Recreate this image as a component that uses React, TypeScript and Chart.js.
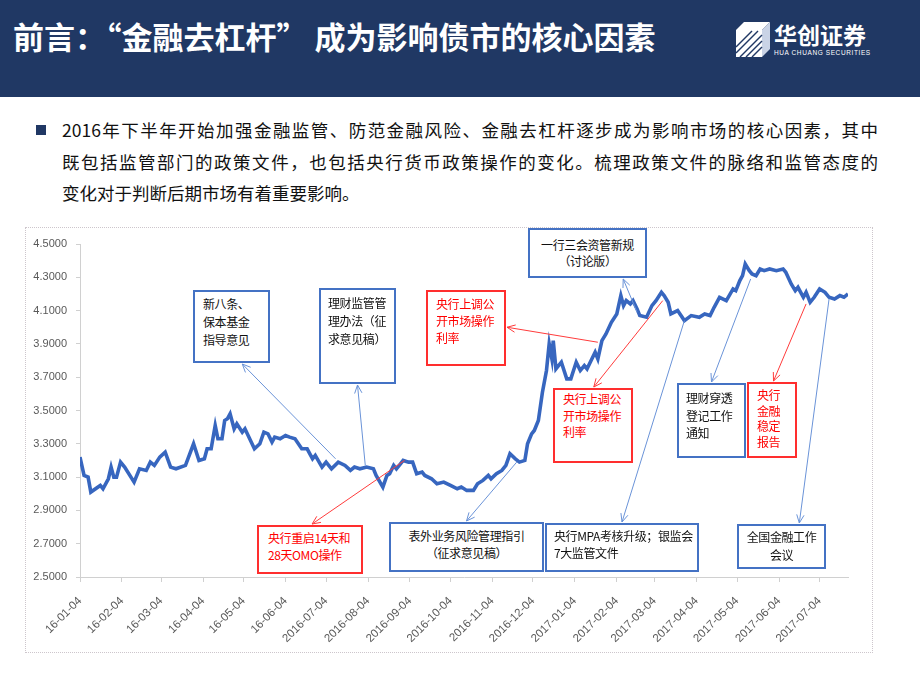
import React, { useEffect, useRef } from "react";
import { Chart, registerables } from "chart.js";

Chart.register(...registerables);

// ---------- DATA ----------
const dates: string[] = [
  "2016-01-04","2016-01-07","2016-01-10","2016-01-12","2016-01-19","2016-01-21","2016-01-25","2016-01-27","2016-01-29","2016-01-31",
  "2016-02-03","2016-02-06","2016-02-13","2016-02-17","2016-02-22","2016-02-25","2016-02-28","2016-03-03","2016-03-07","2016-03-11",
  "2016-03-15","2016-03-22","2016-03-28","2016-04-01","2016-04-05","2016-04-07","2016-04-10","2016-04-13","2016-04-15","2016-04-18",
  "2016-04-20","2016-04-22","2016-04-24","2016-04-27","2016-04-29","2016-05-03","2016-05-05","2016-05-12","2016-05-16","2016-05-19",
  "2016-05-22","2016-05-25","2016-05-27","2016-05-31","2016-06-04","2016-06-07","2016-06-11","2016-06-16","2016-06-20","2016-06-22",
  "2016-06-24","2016-06-26","2016-07-01","2016-07-04","2016-07-08","2016-07-13","2016-07-18","2016-07-22","2016-07-25","2016-07-29",
  "2016-08-03","2016-08-08","2016-08-10","2016-08-15","2016-08-18","2016-08-20","2016-08-23","2016-08-25","2016-08-28","2016-08-30",
  "2016-09-03","2016-09-06","2016-09-09","2016-09-13","2016-09-15","2016-09-20","2016-09-24","2016-09-29","2016-10-04","2016-10-09",
  "2016-10-12","2016-10-16","2016-10-21","2016-10-24","2016-10-28","2016-11-01","2016-11-03","2016-11-07","2016-11-11","2016-11-14",
  "2016-11-17","2016-11-21","2016-11-24","2016-11-28","2016-11-30","2016-12-03","2016-12-05","2016-12-08","2016-12-11","2016-12-14",
  "2016-12-16","2016-12-18","2016-12-19","2016-12-21","2016-12-25","2016-12-29","2017-01-01","2017-01-03","2017-01-05","2017-01-08",
  "2017-01-11","2017-01-13","2017-01-16","2017-01-19","2017-01-21","2017-01-24","2017-01-27","2017-01-31","2017-02-04","2017-02-07",
  "2017-02-09","2017-02-11","2017-02-14","2017-02-16","2017-02-19","2017-02-21","2017-02-26","2017-03-02","2017-03-05","2017-03-09",
  "2017-03-11","2017-03-14","2017-03-16","2017-03-21","2017-03-26","2017-03-31","2017-04-06","2017-04-10","2017-04-14","2017-04-17",
  "2017-04-21","2017-04-26","2017-05-01","2017-05-03","2017-05-06","2017-05-08","2017-05-10","2017-05-13","2017-05-15","2017-05-18",
  "2017-05-21","2017-05-24","2017-05-28","2017-06-02","2017-06-07","2017-06-09","2017-06-13","2017-06-16","2017-06-18","2017-06-22",
  "2017-06-24","2017-06-27","2017-06-30","2017-07-04","2017-07-08","2017-07-11","2017-07-15","2017-07-19","2017-07-22","2017-07-25",
];

const yields: number[] = [
  3.22,3.11,3.10,3.01,3.05,3.03,3.09,3.16,3.10,3.10,
  3.19,3.16,3.07,3.15,3.14,3.19,3.17,3.22,3.25,3.16,
  3.15,3.17,3.30,3.20,3.21,3.27,3.27,3.41,3.33,3.33,
  3.44,3.45,3.48,3.39,3.42,3.37,3.39,3.27,3.30,3.37,
  3.36,3.31,3.34,3.33,3.35,3.34,3.33,3.27,3.27,3.24,
  3.21,3.23,3.16,3.19,3.15,3.19,3.17,3.14,3.16,3.15,
  3.16,3.15,3.11,3.04,3.11,3.12,3.17,3.15,3.18,3.20,
  3.19,3.19,3.12,3.13,3.11,3.09,3.06,3.07,3.05,3.03,
  3.04,3.02,3.02,3.06,3.08,3.11,3.09,3.12,3.14,3.17,
  3.24,3.21,3.19,3.20,3.30,3.36,3.38,3.44,3.61,3.74,
  3.90,3.81,3.92,3.75,3.79,3.69,3.69,3.74,3.79,3.74,
  3.77,3.75,3.80,3.85,3.81,3.92,3.96,4.03,4.08,4.19,
  4.13,4.16,4.14,4.16,4.11,4.07,4.06,4.13,4.16,4.21,
  4.19,4.15,4.08,4.10,4.04,4.07,4.06,4.08,4.07,4.12,
  4.18,4.16,4.23,4.22,4.28,4.31,4.38,4.34,4.32,4.31,
  4.35,4.34,4.35,4.34,4.35,4.33,4.26,4.22,4.24,4.18,
  4.21,4.15,4.18,4.23,4.21,4.18,4.17,4.19,4.18,4.20,
];

const startDate = "2016-01-04";
const endDate = "2017-07-25";

const tickDates: string[] = [
  "2016-01-04","2016-02-04","2016-03-04","2016-04-04","2016-05-04","2016-06-04","2016-07-04",
  "2016-08-04","2016-09-04","2016-10-04","2016-11-04","2016-12-04","2017-01-04","2017-02-04",
  "2017-03-04","2017-04-04","2017-05-04","2017-06-04","2017-07-04",
];
const tickLabels: string[] = [
  "16-01-04","16-02-04","16-03-04","16-04-04","16-05-04","16-06-04","2016-07-04",
  "2016-08-04","2016-09-04","2016-10-04","2016-11-04","2016-12-04","2017-01-04","2017-02-04",
  "2017-03-04","2017-04-04","2017-05-04","2017-06-04","2017-07-04",
];
const yTickValues: number[] = [2.5, 2.7, 2.9, 3.1, 3.3, 3.5, 3.7, 3.9, 4.1, 4.3, 4.5];

// Event annotations: text, anchor date and anchor level on the series, kind
const eventTexts: string[][] = [
  ["新八条、", "保本基金", "指导意见"],
  ["理财监管管", "理办法（征", "求意见稿）"],
  ["央行上调公", "开市场操作", "利率"],
  ["一行三会资管新规", "（讨论版）"],
  ["央行上调公", "开市场操作", "利率"],
  ["理财穿透", "登记工作", "通知"],
  ["央行", "金融", "稳定", "报告"],
  ["表外业务风险管理指引", "（征求意见稿）"],
  ["央行MPA考核升级；银监会", "7大监管文件"],
  ["全国金融工作", "会议"],
  ["央行重启14天和", "28天OMO操作"],
];
const eventDates: string[] = [
  "2016-07-11","2016-08-02","2017-01-21","2017-02-19","2017-03-10","2017-05-14",
  "2017-06-24","2016-11-22","2017-03-26","2017-07-11","2016-08-31",
];
const eventLevels: number[] = [3.21, 3.17, 3.91, 4.09, 4.16, 4.29, 4.14, 3.19, 4.04, 4.17, 3.20];
const eventKinds: string[] = ["reg","reg","pboc","reg","pboc","reg","pboc","reg","reg","reg","pboc"];

// ---------- LAYOUT / STYLE ----------
const CANVAS_LEFT = 25;
const CANVAS_TOP = 227;
const CANVAS_W = 848;
const CANVAS_H = 426;

const kindColor: Record<string, { border: string; text: string; arrow: string }> = {
  reg: { border: "#4472c4", text: "#111111", arrow: "#6a93d8" },
  pboc: { border: "#ff2e2e", text: "#ff0000", arrow: "#ff3b3b" },
};

type BoxLayout = {
  left: number; top: number; w: number; h: number;
  align: "left" | "center"; padL: number; padT: number; lh: number;
  side: "top" | "bottom" | "right"; f: number;
};
const boxLayout: BoxLayout[] = [
  { left: 193, top: 290, w: 77, h: 73, align: "left", padL: 8, padT: 3, lh: 18, side: "bottom", f: 0.64 },
  { left: 319, top: 288, w: 77, h: 96, align: "left", padL: 7, padT: 4, lh: 18, side: "bottom", f: 0.5 },
  { left: 426, top: 290, w: 80, h: 76, align: "left", padL: 8, padT: 3, lh: 17, side: "right", f: 0.49 },
  { left: 528, top: 228, w: 119, h: 50, align: "center", padL: 0, padT: 7, lh: 15.5, side: "bottom", f: 0.8 },
  { left: 553, top: 388, w: 80, h: 75, align: "left", padL: 8, padT: 1, lh: 16.5, side: "top", f: 0.51 },
  { left: 677, top: 383, w: 69, h: 75, align: "left", padL: 7, padT: 4, lh: 17.5, side: "top", f: 0.5 },
  { left: 747, top: 382, w: 50, h: 76, align: "left", padL: 8, padT: 3, lh: 15.5, side: "top", f: 0.53 },
  { left: 389, top: 522, w: 155, h: 50, align: "center", padL: 0, padT: 4, lh: 16.5, side: "top", f: 0.5 },
  { left: 545, top: 523, w: 154, h: 49, align: "left", padL: 7, padT: 3, lh: 16.5, side: "top", f: 0.5 },
  { left: 737, top: 524, w: 89, h: 45, align: "center", padL: 0, padT: 2, lh: 17.5, side: "top", f: 0.7 },
  { left: 257, top: 525, w: 106, h: 49, align: "left", padL: 9, padT: 2, lh: 17, side: "top", f: 0.52 },
];

const DAY_MS = 86400000;
const dayOf = (s: string) => (Date.parse(s) - Date.parse(startDate)) / DAY_MS;

const CJK = '"Noto Sans CJK SC", "Noto Sans", sans-serif';

const bulletLines: string[] = [
  "2016年下半年开始加强金融监管、防范金融风险、金融去杠杆逐步成为影响市场的核心因素，其中",
  "既包括监管部门的政策文件，也包括央行货币政策操作的变化。梳理政策文件的脉络和监管态度的",
  "变化对于判断后期市场有着重要影响。",
];

const arrowPlugin = {
  id: "eventArrows",
  afterDatasetsDraw(chart: any) {
    const { ctx, scales } = chart;
    const xs = scales.x;
    const ys = scales.y;
    ctx.save();
    eventDates.forEach((d, i) => {
      const b = boxLayout[i];
      const ax = xs.getPixelForValue(dayOf(d));
      const ay = ys.getPixelForValue(eventLevels[i]);
      let tx = 0, ty = 0;
      if (b.side === "top") { tx = b.left + b.w * b.f; ty = b.top - 1; }
      else if (b.side === "bottom") { tx = b.left + b.w * b.f; ty = b.top + b.h + 1; }
      else { tx = b.left + b.w + 1; ty = b.top + b.h * b.f; }
      tx -= CANVAS_LEFT;
      ty -= CANVAS_TOP;
      const col = kindColor[eventKinds[i]].arrow;
      ctx.strokeStyle = col;
      ctx.lineWidth = 1;
      ctx.beginPath();
      ctx.moveTo(ax, ay);
      ctx.lineTo(tx, ty);
      ctx.stroke();
      const ang = Math.atan2(ty - ay, tx - ax);
      const L = 9;
      const spread = 0.42;
      ctx.beginPath();
      ctx.moveTo(tx - L * Math.cos(ang - spread), ty - L * Math.sin(ang - spread));
      ctx.lineTo(tx, ty);
      ctx.lineTo(tx - L * Math.cos(ang + spread), ty - L * Math.sin(ang + spread));
      ctx.stroke();
    });
    ctx.restore();
  },
};

function SlideChart() {
  const ref = useRef<HTMLCanvasElement | null>(null);
  useEffect(() => {
    if (!ref.current) return;
    const points = dates.map((d, i) => ({ x: dayOf(d), y: yields[i] }));
    const yFont = { family: '"Liberation Sans", Arial, sans-serif', size: 11 };
    const xFont = { family: '"Liberation Sans", Arial, sans-serif', size: 11.5 };
    const chart = new Chart(ref.current, {
      type: "line",
      data: {
        datasets: [
          {
            data: points,
            borderColor: "#3766bf",
            borderWidth: 3.6,
            pointRadius: 0,
            tension: 0,
            fill: false,
          },
        ],
      },
      options: {
        animation: false,
        responsive: false,
        maintainAspectRatio: false,
        layout: { padding: { top: 17, right: 25, left: 0, bottom: 0 } },
        plugins: { legend: { display: false }, tooltip: { enabled: false } },
        scales: {
          x: {
            type: "linear",
            min: 0,
            max: dayOf(endDate),
            afterBuildTicks: (s: any) => {
              s.ticks = tickDates.map((d) => ({ value: dayOf(d) }));
            },
            afterFit: (s: any) => {
              s.height = 76;
            },
            ticks: {
              autoSkip: false,
              minRotation: 45,
              maxRotation: 45,
              padding: 12,
              color: "#595959",
              font: xFont,
              callback: (_v: any, i: number) => tickLabels[i],
            },
            grid: { drawOnChartArea: false, drawTicks: true, tickLength: 5, color: "#d0d0d0" },
            border: { color: "#d0d0d0" },
          },
          y: {
            min: 2.5,
            max: 4.5,
            afterBuildTicks: (s: any) => {
              s.ticks = yTickValues.map((v) => ({ value: v }));
            },
            afterFit: (s: any) => {
              s.width = 55;
            },
            ticks: {
              padding: 9,
              color: "#595959",
              font: yFont,
              callback: (v: any) => Number(v).toFixed(4),
            },
            grid: { drawOnChartArea: false, drawTicks: true, tickLength: 4, color: "#d0d0d0" },
            border: { color: "#d0d0d0" },
          },
        },
      },
      plugins: [arrowPlugin],
    } as any);
    return () => chart.destroy();
  }, []);
  return (
    <canvas
      ref={ref}
      width={CANVAS_W}
      height={CANVAS_H}
      style={{ position: "absolute", left: CANVAS_LEFT, top: CANVAS_TOP, width: CANVAS_W, height: CANVAS_H }}
    />
  );
}

function Logo() {
  return (
    <div style={{ position: "absolute", left: 736, top: 22, width: 160, height: 40 }}>
      <svg width="34" height="36" viewBox="0 0 34 36" style={{ position: "absolute", left: 0, top: 0 }}>
        <polygon points="0,8 8,0 34,0 26,8" fill="#ffffff" />
        <polygon points="26,8 34,0 34,27 26,35" fill="#c9d3e6" />
        <rect x="0" y="8" width="26" height="27" fill="#ffffff" />
        <line x1="4" y1="35" x2="26" y2="13" stroke="#203864" strokeWidth="1.4" />
        <line x1="10" y1="35" x2="26" y2="19" stroke="#203864" strokeWidth="1.4" />
        <line x1="16" y1="35" x2="26" y2="25" stroke="#203864" strokeWidth="1.4" />
        <line x1="0" y1="31" x2="22" y2="9" stroke="#203864" strokeWidth="1.4" />
        <line x1="0" y1="25" x2="16" y2="9" stroke="#203864" strokeWidth="1.4" />
      </svg>
      <div
        style={{
          position: "absolute", left: 38, top: -2, fontFamily: CJK, fontWeight: 700,
          fontSize: 23, color: "#ffffff", whiteSpace: "nowrap", lineHeight: "28px",
        }}
      >
        华创证券
      </div>
      <div
        style={{
          position: "absolute", left: 38, top: 27, fontFamily: '"Liberation Sans", sans-serif',
          fontSize: 6.5, letterSpacing: 0.6, color: "#ffffff", whiteSpace: "nowrap",
        }}
      >
        HUA CHUANG SECURITIES
      </div>
    </div>
  );
}

export default function App() {
  return (
    <div
      style={{
        position: "absolute", left: 0, top: 0, width: 920, height: 690,
        background: "#ffffff", overflow: "hidden", fontFamily: CJK,
      }}
    >
      <div style={{ position: "absolute", left: 0, top: 0, width: 920, height: 97, background: "#203864" }} />
      <div
        style={{
          position: "absolute", left: 13, top: 15, fontSize: 31, lineHeight: "42px",
          fontWeight: 700, color: "#ffffff", whiteSpace: "nowrap", fontFamily: CJK,
        }}
      >
        前言：“金融去杠杆” 成为影响债市的核心因素
      </div>
      <Logo />

      <div style={{ position: "absolute", left: 36, top: 125, width: 10, height: 10, background: "#203864" }} />
      {bulletLines.map((t, i) => (
        <div
          key={i}
          style={{
            position: "absolute", left: 62, top: 118 + i * 31.5, width: i < 2 ? 816 : 800,
            fontSize: 17.5, lineHeight: "24px", color: "#111111", whiteSpace: "nowrap",
            textAlign: i < 2 ? "justify" : "left", textAlignLast: i < 2 ? "justify" : "left",
            fontFamily: CJK,
          } as any}
        >
          {t}
        </div>
      ))}

      <div
        style={{
          position: "absolute", left: 25, top: 227, width: 848, height: 426,
          border: "1px dotted #cdc6cc", boxSizing: "border-box",
        }}
      />
      <SlideChart />

      {boxLayout.map((b, i) => {
        const c = kindColor[eventKinds[i]];
        return (
          <div
            key={i}
            style={{
              position: "absolute", left: b.left, top: b.top, width: b.w, height: b.h,
              boxSizing: "border-box", border: `2px solid ${c.border}`, background: "#ffffff",
              paddingLeft: b.padL, paddingTop: b.padT, textAlign: b.align,
              fontSize: 12, letterSpacing: -0.4, lineHeight: `${b.lh}px`, color: c.text,
              fontFamily: CJK, whiteSpace: "nowrap",
            }}
          >
            {eventTexts[i].map((l, j) => (
              <div key={j}>{l}</div>
            ))}
          </div>
        );
      })}
    </div>
  );
}
